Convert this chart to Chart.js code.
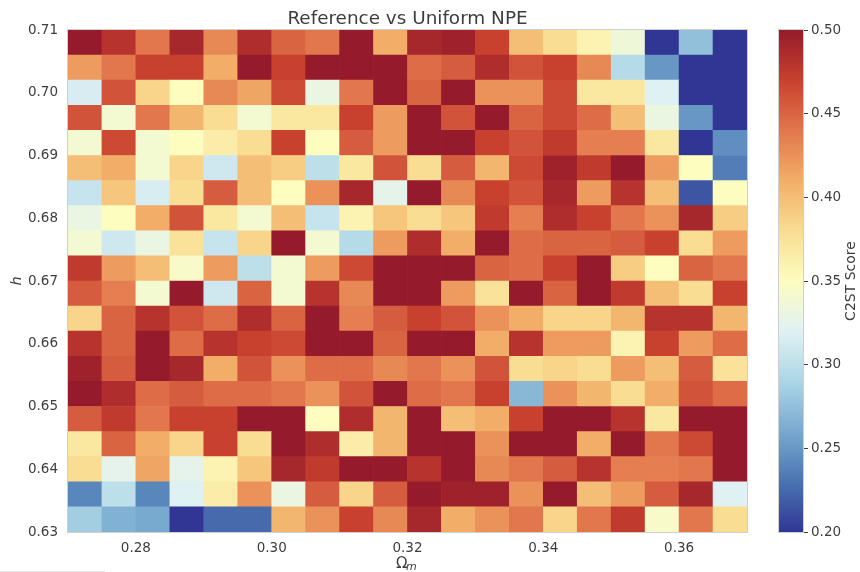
<!DOCTYPE html>
<html>
<head>
<meta charset="utf-8">
<title>Reference vs Uniform NPE</title>
<script src="https://cdn.jsdelivr.net/npm/chart.js@4"></script>
<style>
  html, body { margin: 0; padding: 0; background: #fff; }
  #wrap { position: relative; width: 860px; height: 572px; overflow: hidden; }
  #wrap::after { content: ""; position: absolute; left: 0; bottom: 0; width: 105px; height: 1px; background: #e6e6e6; }
  canvas { position: absolute; top: 0; }
  #heatmap { left: 0; }
  #colorbar { left: 770px; }
</style>
</head>
<body>
<div id="wrap">
  <canvas id="heatmap" width="770" height="572"></canvas>
  <canvas id="colorbar" width="90" height="572"></canvas>
</div>
<script>
// bin edges of the grid
const omegaEdges = [0.270, 0.275, 0.280, 0.285, 0.290, 0.295, 0.300, 0.305, 0.310, 0.315, 0.320,
  0.325, 0.330, 0.335, 0.340, 0.345, 0.350, 0.355, 0.360, 0.365, 0.370]
const hEdges = [0.630, 0.634, 0.638, 0.642, 0.646, 0.650, 0.654, 0.658, 0.662, 0.666, 0.670,
  0.674, 0.678, 0.682, 0.686, 0.690, 0.694, 0.698, 0.702, 0.706, 0.710]

// tick labels
const omegaTicks = [0.28, 0.30, 0.32, 0.34, 0.36]
const hTicks = [0.63, 0.64, 0.65, 0.66, 0.67, 0.68, 0.69, 0.70, 0.71]
const scoreTicks = [0.20, 0.25, 0.30, 0.35, 0.40, 0.45, 0.50]

// C2ST scores, one row per h bin, top row of the picture first
const scores = [
  [.50, .48, .44, .49, .43, .485, .45, .44, .50, .41, .49, .495, .47, .40, .38, .36, .335, .20, .275, .20],
  [.42, .44, .47, .47, .41, .50, .47, .50, .50, .50, .445, .455, .485, .46, .47, .43, .295, .25, .20, .20],
  [.315, .46, .385, .35, .43, .415, .465, .33, .44, .50, .45, .50, .425, .425, .465, .37, .37, .32, .20, .20],
  [.46, .34, .44, .405, .38, .34, .37, .37, .47, .42, .50, .46, .50, .45, .465, .445, .40, .33, .25, .20],
  [.34, .465, .34, .35, .365, .38, .47, .35, .455, .42, .50, .50, .47, .46, .475, .435, .435, .37, .20, .245],
  [.40, .41, .34, .385, .31, .40, .39, .30, .37, .46, .38, .455, .405, .465, .495, .475, .50, .42, .35, .235],
  [.305, .395, .315, .38, .455, .40, .35, .425, .49, .325, .50, .43, .47, .46, .49, .42, .48, .40, .215, .35],
  [.33, .35, .41, .46, .37, .34, .40, .305, .36, .395, .38, .395, .475, .435, .485, .47, .44, .425, .49, .39],
  [.34, .31, .33, .375, .305, .385, .50, .34, .295, .42, .485, .41, .50, .445, .45, .45, .455, .47, .38, .42],
  [.475, .42, .40, .345, .42, .30, .34, .42, .465, .50, .50, .50, .45, .445, .47, .50, .39, .35, .45, .44],
  [.455, .435, .34, .50, .31, .45, .34, .48, .43, .50, .50, .42, .375, .50, .45, .50, .475, .40, .38, .47],
  [.385, .45, .48, .46, .445, .485, .45, .50, .435, .455, .47, .46, .425, .41, .385, .385, .405, .48, .48, .405],
  [.48, .45, .50, .445, .48, .47, .465, .50, .50, .45, .50, .50, .41, .48, .42, .42, .36, .47, .42, .445],
  [.495, .455, .50, .49, .41, .46, .425, .445, .445, .43, .44, .425, .46, .38, .385, .38, .42, .40, .455, .375],
  [.50, .485, .445, .455, .445, .445, .44, .425, .46, .50, .445, .44, .47, .27, .425, .405, .38, .41, .46, .445],
  [.455, .475, .44, .47, .47, .50, .50, .35, .485, .405, .50, .40, .41, .47, .50, .50, .48, .37, .50, .50],
  [.37, .45, .41, .385, .47, .38, .50, .485, .365, .405, .50, .50, .425, .50, .50, .41, .50, .44, .465, .50],
  [.38, .325, .415, .325, .36, .395, .49, .475, .50, .50, .48, .50, .43, .44, .455, .48, .435, .435, .44, .50],
  [.24, .30, .24, .32, .365, .425, .33, .455, .385, .455, .50, .495, .495, .425, .50, .40, .42, .455, .49, .32],
  [.285, .265, .26, .20, .225, .225, .405, .425, .47, .43, .49, .41, .425, .44, .385, .44, .475, .345, .44, .38],
]

const scoreMin = 0.20
const scoreMax = 0.50
// RdYlBu reversed, a little muted like the picture
const ramp = ['#313695', '#4a74b1', '#78a9cf', '#acd6e6', '#e0f1f3', '#fdfdc0',
  '#f9dd92', '#f2ae68', '#e2764c', '#c8412f', '#951a2b']

const inkColor = '#3d3d3d'
const spineColor = '#cfcfcf'
const fontFamily = '"DejaVu Sans", sans-serif'

function hexToRgb(hex) {
  return [1, 3, 5].map((i) => parseInt(hex.slice(i, i + 2), 16))
}

function scoreColor(v) {
  const t = Math.min(1, Math.max(0, (v - scoreMin) / (scoreMax - scoreMin))) * (ramp.length - 1)
  const i = Math.min(ramp.length - 2, Math.floor(t))
  const a = hexToRgb(ramp[i])
  const b = hexToRgb(ramp[i + 1])
  const mix = a.map((c, k) => Math.round(c + (b[k] - c) * (t - i)))
  return `rgb(${mix[0]},${mix[1]},${mix[2]})`
}

// one floating bar per cell: x = bin centre, y = [lower edge, upper edge]
const cells = []
scores.forEach((row, r) => {
  const top = hEdges.length - 1 - r
  row.forEach((score, c) => {
    cells.push({
      x: (omegaEdges[c] + omegaEdges[c + 1]) / 2,
      y: [hEdges[top - 1], hEdges[top]],
      score,
    })
  })
})

const spines = {
  id: 'spines',
  afterDatasetsDraw(chart) {
    const { ctx, chartArea: a } = chart
    ctx.save()
    ctx.strokeStyle = spineColor
    ctx.lineWidth = 1
    ctx.strokeRect(a.left - 0.5, a.top - 0.5, a.right - a.left + 1, a.bottom - a.top + 1)
    ctx.restore()
  },
}

// Omega_m with a real italic subscript, canvas axis titles can't do that
const omegaLabel = {
  id: 'omegaLabel',
  afterDraw(chart) {
    const { ctx, chartArea: a } = chart
    const mid = (a.left + a.right) / 2
    ctx.save()
    ctx.fillStyle = inkColor
    ctx.textAlign = 'left'
    ctx.textBaseline = 'alphabetic'
    ctx.font = `15px ${fontFamily}`
    ctx.fillText('Ω', mid - 11.5, 568)
    ctx.font = `italic 11px ${fontFamily}`
    ctx.fillText('m', mid - 1.5, 570)
    ctx.restore()
  },
}

new Chart(document.getElementById('heatmap'), {
  type: 'bar',
  data: {
    datasets: [{
      data: cells,
      backgroundColor: (c) => scoreColor(c.raw ? c.raw.score : scoreMin),
      borderWidth: 0,
      barPercentage: 1,
      categoryPercentage: 1,
      grouped: false,
    }],
  },
  plugins: [spines, omegaLabel],
  options: {
    responsive: false,
    animation: false,
    layout: { padding: { right: 23 } },
    plugins: {
      legend: { display: false },
      tooltip: { enabled: false },
      title: {
        display: true,
        text: 'Reference vs Uniform NPE',
        color: inkColor,
        fullSize: false,
        font: { family: fontFamily, size: 18.4, weight: 'normal', lineHeight: '20px' },
        padding: { top: 9, bottom: 1 },
      },
    },
    scales: {
      x: {
        type: 'linear',
        offset: false,
        min: 0.27,
        max: 0.37,
        afterBuildTicks: (s) => { s.ticks = omegaTicks.map((value) => ({ value })) },
        afterFit: (s) => { s.height = 40 },
        grid: { display: false, drawTicks: false },
        border: { display: false },
        ticks: {
          color: inkColor,
          padding: 8,
          maxRotation: 0,
          font: { family: fontFamily, size: 13.5 },
          callback: (v) => v.toFixed(2),
        },
      },
      y: {
        type: 'linear',
        min: 0.63,
        max: 0.71,
        afterBuildTicks: (s) => { s.ticks = hTicks.map((value) => ({ value })) },
        afterFit: (s) => { s.width = 68 },
        grid: { display: false, drawTicks: false },
        border: { display: false },
        ticks: {
          color: inkColor,
          padding: 10,
          font: { family: fontFamily, size: 13.5 },
          callback: (v) => v.toFixed(2),
        },
        title: {
          display: true,
          text: 'h',
          color: inkColor,
          padding: { top: 9, bottom: 0 },
          font: { family: fontFamily, size: 14.5, style: 'italic' },
        },
      },
    },
  },
})

// colour bar, single floating bar painted with the ramp
const colorbarLabel = {
  id: 'colorbarLabel',
  afterDraw(chart) {
    const { ctx, chartArea: a } = chart
    ctx.save()
    ctx.translate(81, (a.top + a.bottom) / 2)
    ctx.rotate(-Math.PI / 2)
    ctx.fillStyle = inkColor
    ctx.font = `14px ${fontFamily}`
    ctx.textAlign = 'center'
    ctx.textBaseline = 'middle'
    ctx.fillText('C2ST Score', 0, 0)
    ctx.restore()
  },
}

new Chart(document.getElementById('colorbar'), {
  type: 'bar',
  data: {
    labels: ['C2ST Score'],
    datasets: [{
      data: [[scoreMin, scoreMax]],
      borderWidth: 0,
      barPercentage: 1,
      categoryPercentage: 1,
      backgroundColor: (c) => {
        const { ctx, chartArea, scales } = c.chart
        if (!chartArea) return ramp[0]
        const g = ctx.createLinearGradient(0, scales.y.getPixelForValue(scoreMin), 0, scales.y.getPixelForValue(scoreMax))
        ramp.forEach((color, i) => g.addColorStop(i / (ramp.length - 1), color))
        return g
      },
    }],
  },
  plugins: [spines, colorbarLabel],
  options: {
    responsive: false,
    animation: false,
    layout: { padding: { left: 9, top: 30, bottom: 40 } },
    plugins: { legend: { display: false }, tooltip: { enabled: false } },
    scales: {
      x: { display: false },
      y: {
        position: 'right',
        min: scoreMin,
        max: scoreMax,
        afterBuildTicks: (s) => { s.ticks = scoreTicks.map((value) => ({ value })) },
        afterFit: (s) => { s.width = 57 },
        grid: { drawOnChartArea: false, drawTicks: true, tickLength: 5, tickColor: inkColor, tickWidth: 1 },
        border: { display: false },
        ticks: {
          color: inkColor,
          padding: 3,
          font: { family: fontFamily, size: 13.5 },
          callback: (v) => v.toFixed(2),
        },
      },
    },
  },
})
</script>
</body>
</html>
